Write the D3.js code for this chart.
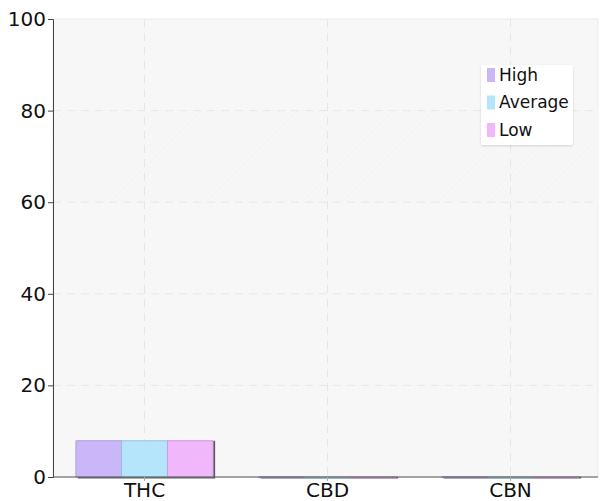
<!DOCTYPE html>
<html>
<head>
<meta charset="utf-8">
<script src="https://cdn.jsdelivr.net/npm/d3@7"></script>
<style>
  body { margin: 0; background: #fff; }
  text { font-family: "DejaVu Sans", Verdana, sans-serif; fill: #111; }
</style>
</head>
<body>
<svg id="chart" width="602" height="501"></svg>
<script>
// chart data
var categories = ["THC", "CBD", "CBN"];
var seriesNames = ["High", "Average", "Low"];
var highValues = [7.9, 0.05, 0.05];
var averageValues = [7.9, 0.05, 0.05];
var lowValues = [7.9, 0.05, 0.05];
var yTicks = [0, 20, 40, 60, 80, 100];

var colors = ["#c9b7fa", "#b4e5fb", "#f0b7fb"];
var strokes = ["#a896d8", "#93c4da", "#cf96da"];

var svg = d3.select("#chart");
var plotLeft = 53, plotRight = 602, plotTop = 19, plotBottom = 477, frameRight = 598;

var xScale = d3.scaleBand().domain(categories).range([plotLeft, plotRight])
    .paddingInner(0.25).paddingOuter(0.125);
var subScale = d3.scaleBand().domain(seriesNames).range([0, xScale.bandwidth()]);
var yScale = d3.scaleLinear().domain([0, 100]).range([plotBottom, plotTop]);

// subtle hatch pattern for the plot background
var defs = svg.append("defs");
var pat = defs.append("pattern").attr("id", "hatch")
    .attr("width", 4).attr("height", 4)
    .attr("patternUnits", "userSpaceOnUse")
    .attr("patternTransform", "rotate(45)");
pat.append("rect").attr("width", 4).attr("height", 4).attr("fill", "#f7f7f7");
pat.append("line").attr("x1", 0).attr("y1", 0).attr("x2", 0).attr("y2", 4)
    .attr("stroke", "#f1f1f1").attr("stroke-width", 1);

svg.append("rect")
    .attr("x", plotLeft).attr("y", plotTop)
    .attr("width", frameRight - plotLeft).attr("height", plotBottom - plotTop)
    .attr("fill", "#f7f7f7").attr("stroke", "#ebebeb");
svg.append("rect")
    .attr("x", plotLeft + 1).attr("y", yScale(80))
    .attr("width", frameRight - plotLeft - 1).attr("height", yScale(60) - yScale(80))
    .attr("fill", "url(#hatch)");

// grid lines
svg.append("g").selectAll("line").data(yTicks.slice(1, 5)).enter().append("line")
    .attr("x1", plotLeft).attr("x2", frameRight)
    .attr("y1", function (d) { return yScale(d); })
    .attr("y2", function (d) { return yScale(d); })
    .attr("stroke", "#e6e6e6").attr("stroke-dasharray", "8,6");
svg.append("g").selectAll("line").data(categories).enter().append("line")
    .attr("x1", function (d) { return xScale(d) + xScale.bandwidth() / 2; })
    .attr("x2", function (d) { return xScale(d) + xScale.bandwidth() / 2; })
    .attr("y1", plotTop).attr("y2", plotBottom)
    .attr("stroke", "#e6e6e6").attr("stroke-dasharray", "8,6");

// bars
var series = [highValues, averageValues, lowValues];
var groups = svg.append("g").selectAll("g").data(categories).enter().append("g");

function groupMax(i) {
    return d3.max(series, function (s) { return s[i]; });
}

// shadow under each group
groups.append("rect")
    .attr("x", function (d) { return xScale(d) + 2; })
    .attr("y", function (d, i) { return yScale(groupMax(i)); })
    .attr("width", xScale.bandwidth())
    .attr("height", function (d, i) { return plotBottom - yScale(groupMax(i)) + 1.5; })
    .attr("fill", "#333").attr("opacity", 0.8);

groups.each(function (cat, ci) {
    d3.select(this).selectAll("rect.bar").data(seriesNames).enter().append("rect")
        .attr("class", "bar")
        .attr("x", function (s) { return xScale(cat) + subScale(s); })
        .attr("y", function (s, si) { return yScale(series[si][ci]); })
        .attr("width", subScale.bandwidth())
        .attr("height", function (s, si) { return Math.max(1, plotBottom - yScale(series[si][ci])); })
        .attr("fill", function (s, si) { return colors[si]; })
        .attr("stroke", function (s, si) { return strokes[si]; })
        .attr("stroke-width", 0.8);
});

// axes
var yAxis = d3.axisLeft(yScale).tickValues(yTicks).tickSize(5).tickPadding(2);
var gy = svg.append("g").attr("transform", "translate(" + plotLeft + ",0)").call(yAxis);
gy.select(".domain").attr("stroke", "#444");
gy.selectAll(".tick line").attr("stroke", "#444");
gy.selectAll("text").style("font-size", "20px").attr("fill", "#111");

var xAxis = d3.axisBottom(xScale).tickSize(4).tickPadding(2);
var gx = svg.append("g").attr("transform", "translate(0," + plotBottom + ")").call(xAxis);
gx.select(".domain").attr("stroke", "#555").attr("d", "M" + plotLeft + ",0H" + frameRight);
gx.selectAll(".tick line").attr("stroke", "#aaa");
gx.selectAll("text").style("font-size", "20px").attr("fill", "#111");

// legend
var legend = svg.append("g").attr("transform", "translate(481,65)");
defs.append("filter").attr("id", "sh").append("feDropShadow")
    .attr("dx", 0).attr("dy", 1).attr("stdDeviation", 1).attr("flood-opacity", 0.15);
legend.append("rect").attr("width", 92).attr("height", 80).attr("rx", 2)
    .attr("fill", "#fff").attr("filter", "url(#sh)");
var items = legend.selectAll("g").data(seriesNames).enter().append("g")
    .attr("transform", function (d, i) { return "translate(6," + (3 + i * 27.5) + ")"; });
items.append("rect").attr("width", 8).attr("height", 14)
    .attr("fill", function (d, i) { return colors[i]; });
items.append("text").attr("x", 12).attr("y", 7).attr("dy", "0.35em")
    .style("font-size", "17px").text(function (d) { return d; });
</script>
</body>
</html>
